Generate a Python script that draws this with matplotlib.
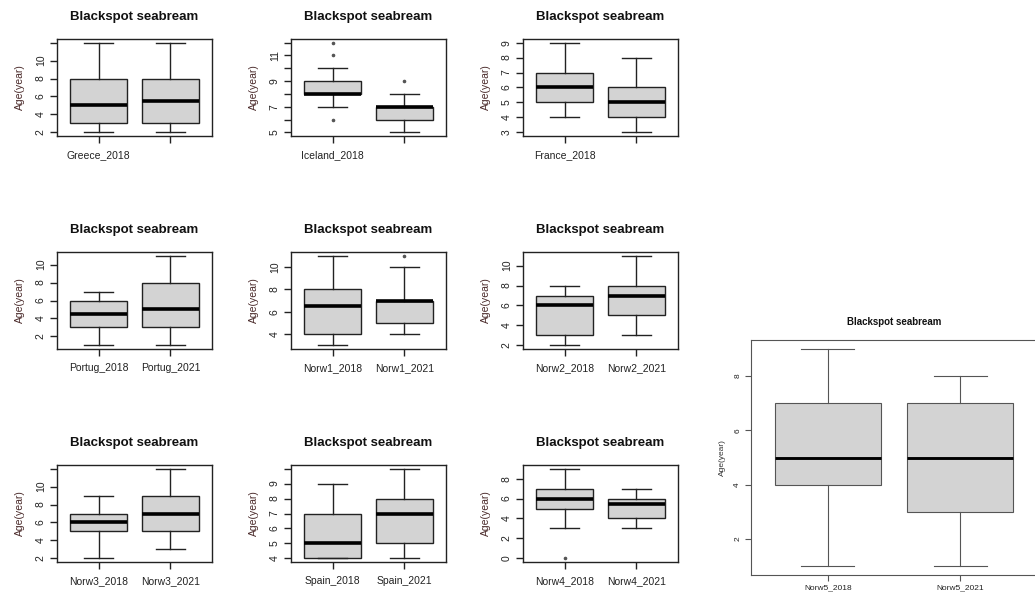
import numpy as np
import matplotlib
matplotlib.use("Agg")
import matplotlib.pyplot as plt

plt.rcParams['font.family'] = ['Liberation Sans', 'DejaVu Sans']

# box statistics: (whislo, q1, med, q3, whishi, fliers)
greece = [(2, 3, 5, 8, 12, []), (2, 3, 5.5, 8, 12, [])]
iceland = [(7, 8, 8, 9, 10, [6, 11, 12]), (5, 6, 7, 7, 8, [9])]
france = [(4, 5, 6, 7, 9, []), (3, 4, 5, 6, 8, [])]
portug = [(1, 3, 4.5, 6, 7, []), (1, 3, 5, 8, 11, [])]
norw1 = [(3, 4, 6.5, 8, 11, []), (4, 5, 7, 7, 10, [11])]
norw2 = [(2, 3, 6, 7, 8, []), (3, 5, 7, 8, 11, [])]
norw3 = [(2, 5, 6, 7, 9, []), (3, 5, 7, 9, 12, [])]
spain = [(4, 4, 5, 7, 9, []), (4, 5, 7, 8, 10, [])]
norw4 = [(3, 5, 6, 7, 9, [0]), (3, 4, 5.5, 6, 7, [])]
norw5 = [(1, 4, 5, 7, 9, []), (1, 3, 5, 7, 8, [])]

xlabels = [
    ["Greece_2018", ""], ["Iceland_2018", ""], ["France_2018", ""],
    ["Portug_2018", "Portug_2021"], ["Norw1_2018", "Norw1_2021"], ["Norw2_2018", "Norw2_2021"],
    ["Norw3_2018", "Norw3_2021"], ["Spain_2018", "Spain_2021"], ["Norw4_2018", "Norw4_2021"],
]
yticks = [
    [2, 4, 6, 8, 10, 12], [5, 6, 7, 8, 9, 10, 11, 12], [3, 4, 5, 6, 7, 8, 9],
    [2, 4, 6, 8, 10], [4, 6, 8, 10], [2, 4, 6, 8, 10],
    [2, 4, 6, 8, 10, 12], [4, 5, 6, 7, 8, 9, 10], [0, 2, 4, 6, 8],
]
yticklabels = [
    ["2", "4", "6", "8", "10", ""], ["5", "", "7", "", "9", "", "11", ""], ["3", "4", "5", "6", "7", "8", "9"],
    ["2", "4", "6", "8", "10"], ["4", "6", "8", "10"], ["2", "4", "6", "8", "10"],
    ["2", "4", "6", "8", "10", ""], ["4", "5", "6", "7", "8", "9", ""], ["0", "2", "4", "6", "8"],
]
panels = [greece, iceland, france, portug, norw1, norw2, norw3, spain, norw4]

big_xlabels = ["Norw5_2018", "Norw5_2021"]
big_yticks = [2, 4, 6, 8]

title = "Blackspot seabream"
ylab = "Age(year)"

W, H = 1035, 602
fig = plt.figure(figsize=(W / 100, H / 100), dpi=100)


def px_axes(x, y, w, h):
    return fig.add_axes([x / W, 1 - (y + h) / H, w / W, h / H])


def rbox(ax, data, labels, ticks, ticklabels, fs_title, fs_tick, edge, lw, tl, xpad, ypad):
    stats = []
    for lo, q1, med, q3, hi, fl in data:
        stats.append(dict(whislo=lo, q1=q1, med=med, q3=q3, whishi=hi, fliers=fl))
    ax.bxp(stats, positions=[1, 2], widths=0.8, patch_artist=True,
           boxprops=dict(facecolor='#d3d3d3', edgecolor=edge, linewidth=lw),
           medianprops=dict(color='black', linewidth=lw * 2.6),
           whiskerprops=dict(color=edge, linewidth=lw, linestyle='-'),
           capprops=dict(color=edge, linewidth=lw),
           flierprops=dict(marker='o', markersize=1.6, markerfacecolor='#555555',
                           markeredgecolor='#555555'))
    vals = [v for d in data for v in [d[0], d[4]] + list(d[5])]
    lo, hi = min(vals), max(vals)
    pad = (hi - lo) * 0.04
    ax.set_ylim(lo - pad, hi + pad)
    ax.set_xlim(0.5 - 0.04 * 2, 2.5 + 0.04 * 2)
    ax.set_xticks([1, 2])
    ax.set_xticklabels(labels)
    ax.set_yticks(ticks)
    ax.set_yticklabels(ticklabels if ticklabels else [str(t) for t in ticks],
                       rotation=90, va='center')
    ax.tick_params(labelsize=fs_tick, length=tl, width=lw, color=edge,
                   labelcolor='#222222')
    ax.tick_params(axis='x', pad=xpad)
    ax.tick_params(axis='y', pad=ypad)
    for s in ax.spines.values():
        s.set_linewidth(lw)
        s.set_color(edge)
    ax.set_title(title, fontsize=fs_title, fontweight='bold', pad=14, color='#111111')


xs = [57, 291, 523]
ys = [39, 252, 465]
for i, data in enumerate(panels):
    ax = px_axes(xs[i % 3], ys[i // 3], 155, 97)
    rbox(ax, data, xlabels[i], yticks[i], yticklabels[i], 9.5, 7.5, '#222222', 1.0, 5, 5, 3)
    ax.set_ylabel(ylab, fontsize=7.5, color='#4a2a2a', labelpad=8)

ax = px_axes(751, 340, 286, 235)
rbox(ax, norw5, big_xlabels, big_yticks, None, 7, 6, '#555555', 0.8, 4, 3, 3)
ax.set_ylabel(ylab, fontsize=6, color='#333333', labelpad=6)
ax.set_title(title, fontsize=7, fontweight='bold', pad=11, color='#111111')

fig.savefig("out.png", dpi=100)
